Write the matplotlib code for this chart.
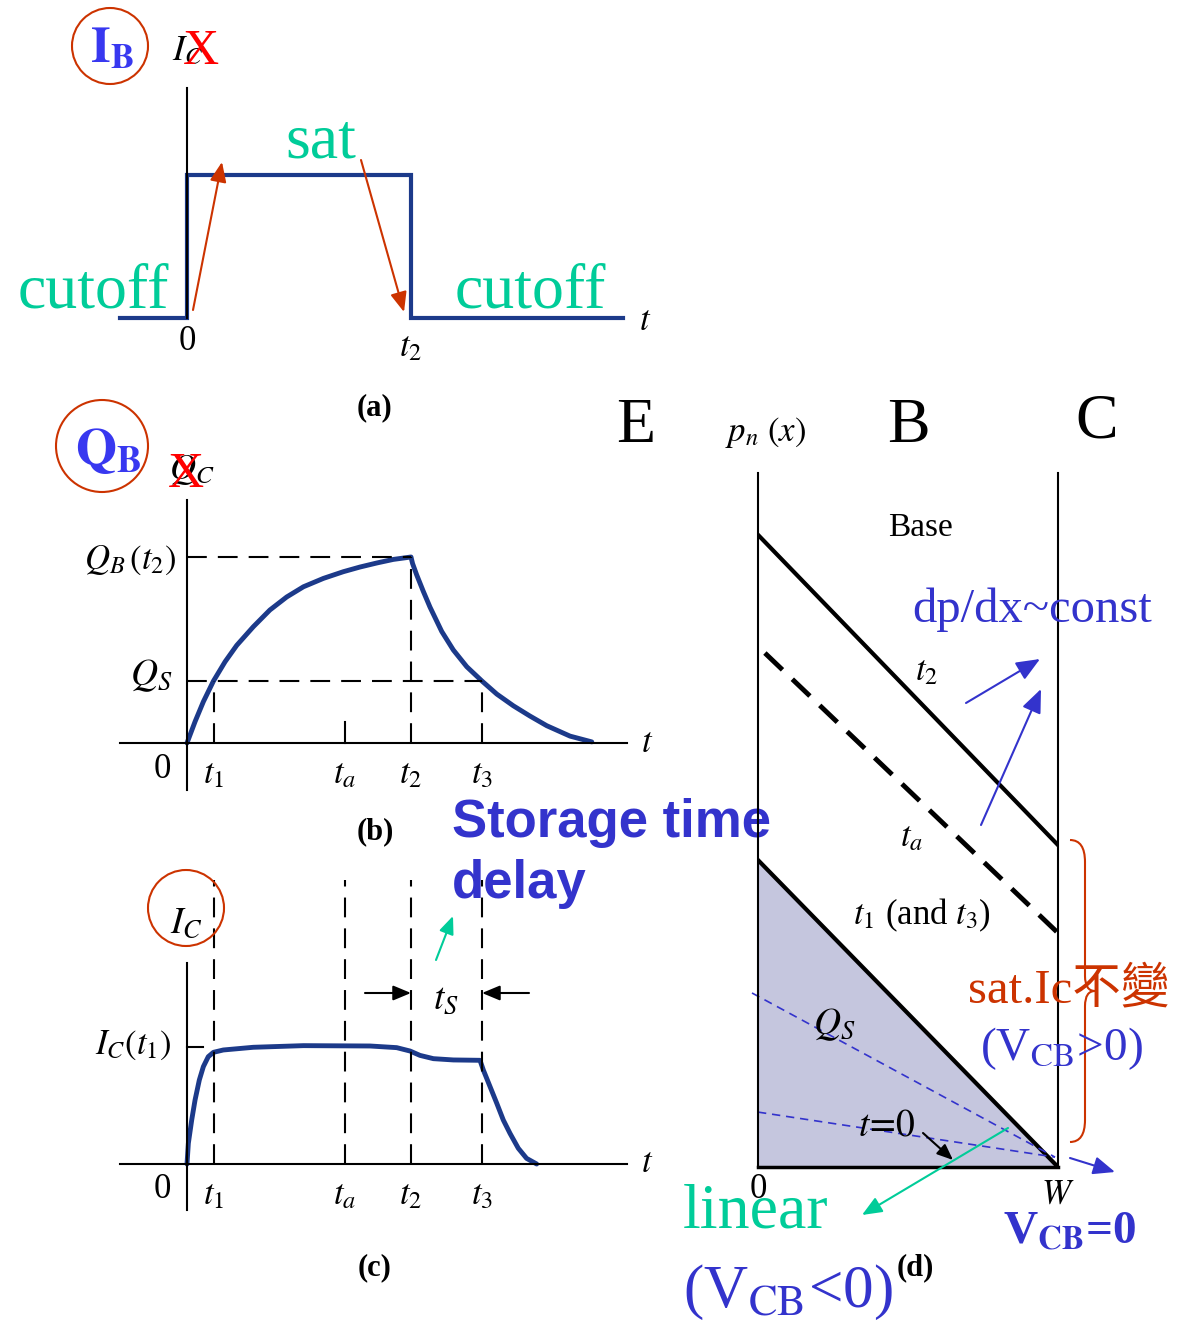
import matplotlib.pyplot as plt
from matplotlib.patches import Circle, PathPatch
from matplotlib.path import Path

plt.rcParams['font.family'] = ['Liberation Serif', 'Noto Sans CJK TC']
plt.rcParams['mathtext.fontset'] = 'stix'

NAVY = '#1c3a8a'
BLUE = '#3333cc'
BRIGHT = '#3838f0'
GREEN = '#00cc99'
RUST = '#cc3300'
LAVENDER = '#c5c6de'

# time axis shared by (a)-(c), in units of t2
T1, TA, T2, T3 = 0.12, 0.705, 1.0, 1.317
T_TICKS = [T1, TA, T2, T3]
T_LABELS = [r'$t_1$', r'$t_a$', r'$t_2$', r'$t_3$']

# (a) base current step
PULSE_T = [-0.3, 0, 0, T2, T2, 1.946]
PULSE_I = [0, 0, 1, 1, 0, 0]

# (b) stored base charge, Q_B(t2) = 1
Q_S = 0.333
Q_T = [0, 0.036, 0.073, 0.118, 0.170, 0.222, 0.296, 0.37, 0.445, 0.52, 0.609,
       0.698, 0.772, 0.848, 0.921, 1.0, 1.007, 1.025, 1.055, 1.085, 1.137,
       1.189, 1.249, 1.317, 1.383, 1.457, 1.531, 1.606, 1.710, 1.807]
Q_VAL = [0, 0.115, 0.222, 0.333, 0.437, 0.525, 0.625, 0.715, 0.785, 0.84, 0.885,
         0.921, 0.946, 0.968, 0.987, 1.0, 0.965, 0.905, 0.815, 0.73, 0.60,
         0.5, 0.41, 0.333, 0.263, 0.200, 0.145, 0.093, 0.037, 0.006]

# (c) collector current, I_C(t1) = 1
IC_T = [0, 0.006, 0.021, 0.036, 0.055, 0.073, 0.095, 0.118, 0.162, 0.296, 0.52,
        0.817, 0.936, 0.996, 1.040, 1.100, 1.189, 1.308, 1.323, 1.353, 1.383,
        1.412, 1.442, 1.479, 1.516, 1.561]
IC_VAL = [0, 0.176, 0.375, 0.546, 0.716, 0.830, 0.915, 0.952, 0.972, 0.995, 1.009,
          1.006, 0.992, 0.963, 0.926, 0.898, 0.887, 0.884, 0.801, 0.659, 0.517,
          0.375, 0.261, 0.134, 0.048, 0]

# (d) hole profiles across the base, x in units of W
P_X = [0, 1]
P_T2 = [2.107, 1.073]
P_TA_X = [0.023, 1]
P_TA = [1.713, 0.78]
P_T1 = [1.023, 0.0]
GUIDE_HI_X, GUIDE_HI = [-0.02, 0.99], [0.58, 0.033]
GUIDE_LO_X, GUIDE_LO = [0, 0.99], [0.183, 0.033]

W, H = 1189, 1324
fig = plt.figure(figsize=(W / 100, H / 100), dpi=100)

T0_PX, T_UNIT = 187, 224  # pixel position of t=0 and pixels per t2


def box(left, top, right, bottom):
    return [left / W, 1 - bottom / H, (right - left) / W, (bottom - top) / H]


def panel(left, top, right, bottom, xlim, ylim, spines, at_zero=True):
    ax = fig.add_axes(box(left, top, right, bottom))
    ax.set_xlim(xlim)
    ax.set_ylim(ylim)
    ax.set_facecolor('none')
    ax.set_xticks([])
    ax.set_yticks([])
    for name, sp in ax.spines.items():
        sp.set_visible(name in spines)
        sp.set_linewidth(1.5)
        if at_zero and name in ('left', 'bottom'):
            sp.set_position(('data', 0))
    return ax


def time_panel(left, top, right, bottom, y0_px, unit_px, spines):
    xlim = ((left - T0_PX) / T_UNIT, (right - T0_PX) / T_UNIT)
    ylim = ((y0_px - bottom) / unit_px, (y0_px - top) / unit_px)
    return panel(left, top, right, bottom, xlim, ylim, spines)


def t_labels(ax, dy, zero_dx):
    for t, lab in zip(T_TICKS, T_LABELS):
        ax.annotate(lab, (t, 0), xytext=(0, -dy), textcoords='offset pixels',
                    ha='center', va='center', fontsize=25)
    ax.annotate('0', (0, 0), xytext=(zero_dx, -dy + 6), textcoords='offset pixels',
                ha='center', va='center', fontsize=25)
    ax.annotate(r'$t$', (1, 0), xycoords=('axes fraction', 'data'), xytext=(20, 0),
                textcoords='offset pixels', ha='center', va='center', fontsize=25)


dash = dict(color='black', lw=1.5, dashes=(9.5, 5.3))
curve = dict(color=NAVY, lw=3.5, solid_capstyle='round', solid_joinstyle='round')

# (a) I_B step
ax_a = time_panel(120, 88, 623, 318, 318, 143, ('left',))
ax_a.plot(PULSE_T, PULSE_I, color=NAVY, lw=3, solid_joinstyle='miter', clip_on=False)
ax_a.annotate('0', (0, 0), xytext=(0, -24), textcoords='offset pixels',
              ha='center', va='center', fontsize=25)
ax_a.annotate(r'$t_2$', (T2, 0), xytext=(0, -30), textcoords='offset pixels',
              ha='center', va='center', fontsize=25)
ax_a.annotate(r'$t$', (1, 0), xycoords=('axes fraction', 'data'), xytext=(22, -4),
              textcoords='offset pixels', ha='center', va='center', fontsize=25)

# (b) Q_B(t)
ax_b = time_panel(120, 500, 627, 790, 743, 186, ('left', 'bottom'))
ax_b.plot(Q_T, Q_VAL, **curve)
ax_b.plot([0, T2], [1, 1], **dash)
ax_b.plot([0, T3], [Q_S, Q_S], **dash)
for t, top in ((T1, Q_S), (T2, 1), (T3, Q_S)):
    ax_b.plot([t, t], [0, top], **dash)
ax_b.plot([TA, TA], [0, 0.113], color='black', lw=1.5)
t_labels(ax_b, 32, -25)

# (c) I_C(t)
ax_c = time_panel(120, 963, 627, 1210, 1164, 117.3, ('left', 'bottom'))
ax_c.plot(IC_T, IC_VAL, **curve)
for t in T_TICKS:
    ax_c.plot([t, t], [0, 2.42], clip_on=False, **dash)
ax_c.plot([0, 0.07], [1, 1], color='black', lw=1.5)
t_labels(ax_c, 32, -25)

# (d) p_n(x) in the base
ax_d = panel(758, 473, 1058, 1167, (0, 1), (0, 2.313),
             ('left', 'right', 'bottom'), at_zero=False)
ax_d.spines['bottom'].set_linewidth(2.5)
ax_d.fill_between(P_X, P_T1, 0, color=LAVENDER, lw=0)
ax_d.plot(P_X, P_T2, color='black', lw=3)
ax_d.plot(P_TA_X, P_TA, color='black', lw=3.5, dashes=(5, 2.8))
ax_d.plot(P_X, P_T1, color='black', lw=3)
ax_d.plot(GUIDE_HI_X, GUIDE_HI, color=BLUE, lw=1.2, dashes=(5, 3.5), clip_on=False)
ax_d.plot(GUIDE_LO_X, GUIDE_LO, color=BLUE, lw=1.2, dashes=(5, 3.5))

# notes drawn on top, in pixel units
ov = fig.add_axes([0, 0, 1, 1], zorder=10)
ov.set_xlim(0, W)
ov.set_ylim(H, 0)
ov.axis('off')


def arrow(p0, p1, color, lw=1.5, scale=20, hl=0.6, hw=0.25):
    ov.annotate('', xy=p1, xytext=p0,
                arrowprops=dict(arrowstyle=f'-|>,head_length={hl},head_width={hw}',
                                color=color, lw=lw, mutation_scale=scale,
                                shrinkA=0, shrinkB=0))


def txt(x, y, s, **kw):
    kw.setdefault('ha', 'center')
    kw.setdefault('va', 'center')
    ov.text(x, y, s, **kw)


# (a) annotations
ov.add_patch(Circle((110, 46), 38, fill=False, ec=RUST, lw=1.5))
txt(112, 50, r'$\mathbf{I}_\mathbf{B}$', color=BRIGHT, fontsize=36)
txt(188, 52, r'$I_C$', fontsize=26)
txt(201, 52, 'X', color='red', fontsize=36)
txt(18, 307, 'cutoff', color=GREEN, fontsize=46, ha='left', va='baseline')
txt(455, 307, 'cutoff', color=GREEN, fontsize=46, ha='left', va='baseline')
txt(285, 158, 'sat', color=GREEN, fontsize=46, ha='left', va='baseline')
arrow((193, 310), (222, 162), RUST)
arrow((361, 160), (404, 312), RUST)
txt(375, 408, '(a)', fontsize=22, weight='bold')

# (b) annotations
ov.add_patch(Circle((102, 446), 46, fill=False, ec=RUST, lw=1.5))
txt(108, 451, r'$\mathbf{Q}_\mathbf{B}$', color=BRIGHT, fontsize=38)
txt(192, 470, r'$Q_C$', fontsize=26)
txt(186, 475, 'X', color='red', fontsize=36)
txt(177, 560, r'$Q_B\,(t_2)$', fontsize=25, ha='right')
txt(172, 676, r'$Q_S$', fontsize=27, ha='right')
txt(375, 832, '(b)', fontsize=22, weight='bold')

# (c) annotations
ov.add_patch(Circle((186, 908), 38, fill=False, ec=RUST, lw=1.5))
txt(186, 924, r'$I_C$', fontsize=27)
txt(172, 1045, r'$I_C(t_1)$', fontsize=25, ha='right')
arrow((365, 993), (411, 993), 'black', scale=18)
arrow((529, 993), (482, 993), 'black', scale=18)
txt(446, 1000, r'$t_S$', fontsize=27)
arrow((436, 960), (453, 916), GREEN, scale=18)
txt(375, 1268, '(c)', fontsize=22, weight='bold')

fig.text(452 / W, 1 - 837 / H, 'Storage time', family='Liberation Sans',
         weight='bold', fontsize=38, color=BLUE, zorder=-1)
fig.text(452 / W, 1 - 898 / H, 'delay', family='Liberation Sans',
         weight='bold', fontsize=38, color=BLUE, zorder=-1)

# (d) annotations
txt(636, 427, 'E', fontsize=46)
txt(908, 427, 'B', fontsize=46)
txt(1097, 422, 'C', fontsize=46)
txt(766, 432, r'$p_n\ (x)$', fontsize=25)
txt(920, 528, 'Base', fontsize=24)
txt(912, 622, 'dp/dx~const', color=BLUE, fontsize=35, ha='left', va='baseline')
arrow((966, 703), (1040, 659), BLUE, scale=24)
arrow((981, 825), (1041, 689), BLUE, scale=24)
txt(927, 672, r'$t_2$', fontsize=25)
txt(912, 838, r'$t_a$', fontsize=25)
txt(922, 915, r'$t_1$ (and $t_3$)', fontsize=25)
txt(834, 1025, r'$Q_S$', fontsize=27)
txt(887, 1126, r'$t\!=\!0$', fontsize=27)
arrow((923, 1133), (953, 1160), 'black', scale=16)
arrow((1008, 1128), (862, 1215), GREEN, scale=20)
arrow((1070, 1158), (1115, 1172), BLUE, scale=22)
txt(758, 1190, '0', fontsize=25)
txt(1058, 1195, r'$W$', fontsize=25)

brace = Path([(1070, 840), (1085, 840), (1085, 862), (1085, 976),
              (1085, 991), (1095, 991), (1085, 991), (1085, 1006),
              (1085, 1120), (1085, 1142), (1070, 1142)],
             [Path.MOVETO, Path.CURVE3, Path.CURVE3, Path.LINETO,
              Path.CURVE3, Path.CURVE3, Path.CURVE3, Path.CURVE3,
              Path.LINETO, Path.CURVE3, Path.CURVE3])
ov.add_patch(PathPatch(brace, fill=False, ec=RUST, lw=1.5))

txt(968, 1002, 'sat.Ic不變', color=RUST, fontsize=35, ha='left', va='baseline')
txt(980, 1060, r'(V$_{\mathrm{CB}}$>0)', color=BLUE, fontsize=34,
    ha='left', va='baseline')
txt(1003, 1243, r'V$_{\mathbf{CB}}$=0', color=BLUE, fontsize=34, weight='bold',
    ha='left', va='baseline')
txt(683, 1228, 'linear', color=GREEN, fontsize=46, ha='left', va='baseline')
txt(683, 1307, r'(V$_{\mathrm{CB}}$<0)', color=BLUE, fontsize=44,
    ha='left', va='baseline')
txt(915, 1268, '(d)', fontsize=22, weight='bold')

fig.savefig('out.png', dpi=100)
